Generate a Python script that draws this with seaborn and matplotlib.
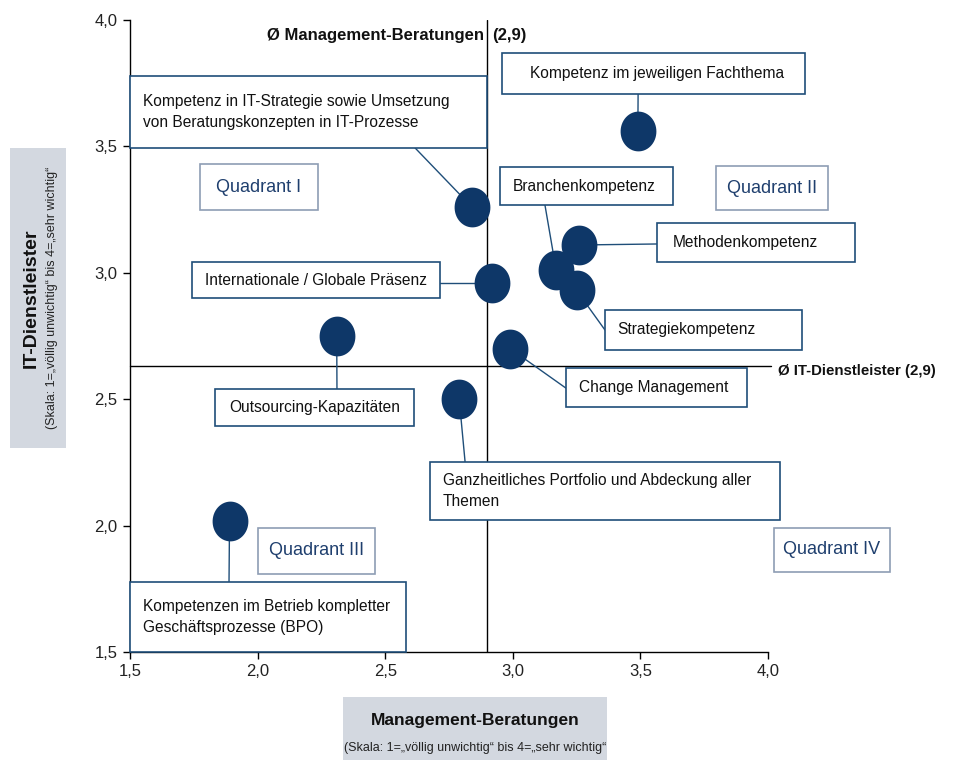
import matplotlib
matplotlib.use('Agg')
import matplotlib.pyplot as plt
import seaborn as sns
import pandas as pd
import numpy as np
from matplotlib.patches import Rectangle
from matplotlib.path import Path
from matplotlib.ticker import FuncFormatter

# Kompetenzen und Bewertungen (x = Management-Beratungen, y = IT-Dienstleister)
competences = [
    'Kompetenz im jeweiligen Fachthema',
    'Kompetenz in IT-Strategie sowie Umsetzung\nvon Beratungskonzepten in IT-Prozesse',
    'Branchenkompetenz',
    'Methodenkompetenz',
    'Strategiekompetenz',
    'Internationale / Globale Präsenz',
    'Change Management',
    'Outsourcing-Kapazitäten',
    'Ganzheitliches Portfolio und Abdeckung aller\nThemen',
    'Kompetenzen im Betrieb kompletter\nGeschäftsprozesse (BPO)',
]
mb_scores = [3.49, 2.84, 3.17, 3.26, 3.25, 2.92, 2.99, 2.31, 2.79, 1.89]
it_scores = [3.56, 3.26, 3.01, 3.11, 2.93, 2.96, 2.70, 2.75, 2.50, 2.02]

mean_mb = 2.9
mean_it_line = 2.63
mean_mb_label = '(2,9)'
mean_it_label = 'Ø IT-Dienstleister (2,9)'

quadrants = ['Quadrant I', 'Quadrant II', 'Quadrant III', 'Quadrant IV']
axis_ticks = [1.5, 2.0, 2.5, 3.0, 3.5, 4.0]

# Layout der Beschriftungen: Box (x0, y0, x1, y1), Textabstand und Ankerpunkt der Verbindungslinie
label_boxes = [
    (2.958, 3.707, 4.145, 3.869),
    (1.500, 3.494, 2.899, 3.778),
    (2.950, 3.268, 3.628, 3.418),
    (3.565, 3.043, 4.341, 3.197),
    (3.361, 2.695, 4.133, 2.853),
    (1.743, 2.900, 2.715, 3.043),
    (3.208, 2.469, 3.918, 2.623),
    (1.833, 2.394, 2.613, 2.540),
    (2.676, 2.022, 4.047, 2.252),
    (1.500, 1.500, 2.581, 1.777),
]
text_pad = [0.11, 0.05, 0.05, 0.06, 0.05, 0.05, 0.05, 0.055, 0.05, 0.05]
anchors = [
    (3.491, 3.707), (2.617, 3.494), (3.126, 3.268), (3.565, 3.114),
    (3.361, 2.774), (2.715, 2.960), (3.208, 2.544), (2.311, 2.540),
    (2.813, 2.252), (1.888, 1.777),
]
quadrant_boxes = [
    (1.774, 3.248, 2.237, 3.430),
    (3.796, 3.248, 4.235, 3.422),
    (2.002, 1.809, 2.460, 1.991),
    (4.024, 1.816, 4.478, 1.991),
]

navy = '#0E3768'
line_blue = '#1F4E79'
quad_text = '#1F3F6E'
quad_edge = '#8E9DB4'
label_bg = '#D3D8E0'

sns.set_style('white')
plt.rcParams['font.family'] = ['Liberation Sans', 'DejaVu Sans']

df = pd.DataFrame({'Kompetenz': competences, 'MB': mb_scores, 'IT': it_scores})

fig = plt.figure(figsize=(9.56, 7.6), dpi=100)
ax = fig.add_axes([130 / 956, 108 / 760, 638 / 956, 632 / 760])

# leicht ovaler Marker
t = np.linspace(0, 2 * np.pi, 60)
oval = Path(np.column_stack([0.9 * np.cos(t), np.sin(t)]), closed=True)

# Mittelwertlinien
ax.axvline(mean_mb, color='black', lw=1, zorder=1)
ax.plot([1.5, 4.01], [mean_it_line, mean_it_line], color='black', lw=1, zorder=1, clip_on=False)

# Verbindungslinien
for (ax_x, ax_y), x, y in zip(anchors, mb_scores, it_scores):
    ax.plot([x, ax_x], [y, ax_y], color=line_blue, lw=1, zorder=2, clip_on=False)

sns.scatterplot(data=df, x='MB', y='IT', ax=ax, marker=oval, s=820,
                color=navy, edgecolor=navy, linewidth=0, zorder=4, clip_on=False)

# Beschriftungsboxen
for text, pad, (x0, y0, x1, y1) in zip(competences, text_pad, label_boxes):
    ax.add_patch(Rectangle((x0, y0), x1 - x0, y1 - y0, facecolor='white',
                           edgecolor=line_blue, lw=1.2, zorder=3, clip_on=False))
    ax.text(x0 + pad, (y0 + y1) / 2, text, ha='left', va='center', fontsize=11.2,
            color='#111111', linespacing=1.5, zorder=5, clip_on=False)

for text, (x0, y0, x1, y1) in zip(quadrants, quadrant_boxes):
    ax.add_patch(Rectangle((x0, y0), x1 - x0, y1 - y0, facecolor='white',
                           edgecolor=quad_edge, lw=1.2, zorder=3, clip_on=False))
    ax.text((x0 + x1) / 2, (y0 + y1) / 2, text, ha='center', va='center', fontsize=13,
            color=quad_text, zorder=5, clip_on=False)

ax.text(mean_mb - 0.012, 3.94, 'Ø Management-Beratungen', ha='right', va='center',
        fontsize=12, fontweight='bold', color='#111111')
ax.text(mean_mb + 0.02, 3.94, mean_mb_label, ha='left', va='center',
        fontsize=12, fontweight='bold', color='#111111')
ax.text(4.04, 2.61, mean_it_label, ha='left', va='center', fontsize=10.8,
        fontweight='bold', color='#111111', clip_on=False)

ax.set_xlim(1.5, 4.0)
ax.set_ylim(1.5, 4.0)
ax.set_xticks(axis_ticks)
ax.set_yticks(axis_ticks)
comma = FuncFormatter(lambda v, p: f'{v:.1f}'.replace('.', ','))
ax.xaxis.set_major_formatter(comma)
ax.yaxis.set_major_formatter(comma)
ax.tick_params(axis='both', direction='out', length=5, width=1, color='black',
               labelsize=12, labelcolor='#222222', pad=4,
               bottom=True, left=True)
ax.set_xlabel('')
ax.set_ylabel('')
sns.despine(ax=ax)
for side in ['left', 'bottom']:
    ax.spines[side].set_color('black')
    ax.spines[side].set_linewidth(1)

# Achsenbeschriftungen in grauen Boxen
fig.patches.append(Rectangle((10 / 956, 312 / 760), 56 / 956, 300 / 760,
                             transform=fig.transFigure, facecolor=label_bg, edgecolor='none'))
fig.text(31 / 956, 462 / 760, 'IT-Dienstleister', rotation=90, ha='center', va='center',
         fontsize=14, fontweight='bold', color='#111111')
fig.text(52 / 956, 462 / 760, '(Skala: 1=„völlig unwichtig“ bis 4=„sehr wichtig“',
         rotation=90, ha='center', va='center', fontsize=9, color='#222222')

fig.patches.append(Rectangle((343 / 956, 0), 264 / 956, 63 / 760,
                             transform=fig.transFigure, facecolor=label_bg, edgecolor='none'))
fig.text(475 / 956, 40 / 760, 'Management-Beratungen', ha='center', va='center',
         fontsize=12.5, fontweight='bold', color='#111111')
fig.text(475 / 956, 12 / 760, '(Skala: 1=„völlig unwichtig“ bis 4=„sehr wichtig“',
         ha='center', va='center', fontsize=9, color='#222222')

fig.savefig('out.png', dpi=100)
